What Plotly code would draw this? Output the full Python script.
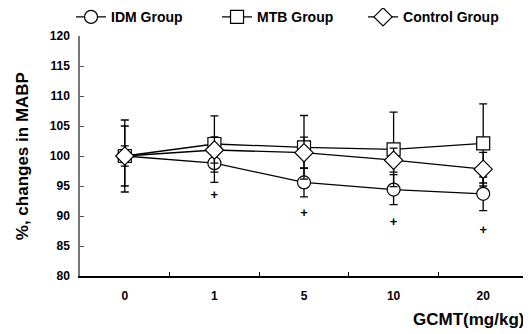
import plotly.graph_objects as go

doses = ["0", "1", "5", "10", "20"]
idm = [100, 98.8, 95.6, 94.4, 93.7]
idm_err = [5.0, 3.2, 2.4, 2.5, 2.8]
mtb = [100, 102.0, 101.45, 101.1, 102.1]
mtb_err = [6.0, 4.7, 5.3, 6.2, 6.6]
ctrl = [100, 101.0, 100.55, 99.3, 97.8]
ctrl_err = [1.7, 2.2, 2.6, 2.0, 2.8]
sig_doses = ["1", "5", "10", "20"]
sig_y = [93.3, 90.3, 88.9, 87.5]

FONT = "Arial, Liberation Sans, sans-serif"

fig = go.Figure()

def add(name, y, err, symbol):
    fig.add_trace(go.Scatter(
        x=doses, y=y, name=name, mode="lines+markers",
        line=dict(color="black", width=1.3),
        marker=dict(symbol=symbol, size=13 if symbol != "diamond" else 14,
                    color="white", line=dict(color="black", width=1.2)),
        error_y=dict(type="data", array=err, visible=True, color="black",
                     thickness=1.3, width=4),
    ))

add("IDM Group", idm, idm_err, "circle")
add("MTB Group", mtb, mtb_err, "square")
add("Control Group", ctrl, ctrl_err, "diamond")

fig.add_trace(go.Scatter(
    x=sig_doses, y=sig_y, mode="text", text=["+"] * len(sig_y),
    textfont=dict(family=FONT, size=13, color="black", weight="bold"),
    showlegend=False, hoverinfo="skip",
))

fig.update_layout(
    width=523, height=326,
    margin=dict(l=72, r=3, t=28, b=58, autoexpand=False),
    paper_bgcolor="white", plot_bgcolor="white",
    font=dict(family=FONT, size=12, color="black", weight="bold"),
    showlegend=True,
    legend=dict(orientation="h", x=-0.02, y=1.078, xanchor="left", yanchor="middle",
                font=dict(size=14, weight="bold"), entrywidth=101,
                bgcolor="rgba(0,0,0,0)", itemwidth=30, tracegroupgap=0),
    xaxis=dict(type="category", range=[-0.5, 4.5], showgrid=False,
               showline=True, linecolor="black", linewidth=1.5,
               ticks="inside", tickson="boundaries", ticklen=4, tickcolor="black",
               tickfont=dict(size=12, weight="bold"), ticklabelstandoff=8,
               zeroline=False),
    yaxis=dict(range=[80, 120], dtick=5, showgrid=False,
               showline=True, linecolor="#777", linewidth=1.5,
               ticks="inside", ticklen=4, tickcolor="#555",
               tickfont=dict(size=12, weight="bold"), ticklabelstandoff=6,
               zeroline=False),
    annotations=[
        dict(text="GCMT(mg/kg)", xref="paper", yref="paper", x=0.995, y=-0.183,
             xanchor="right", yanchor="middle", showarrow=False,
             font=dict(size=17, weight="bold")),
        dict(text="%, changes in MABP", xref="paper", yref="paper", x=-0.129, y=0.5,
             xanchor="center", yanchor="middle", textangle=-90, showarrow=False,
             font=dict(size=17, weight="bold")),
    ],
)

fig.write_html("out.html")
